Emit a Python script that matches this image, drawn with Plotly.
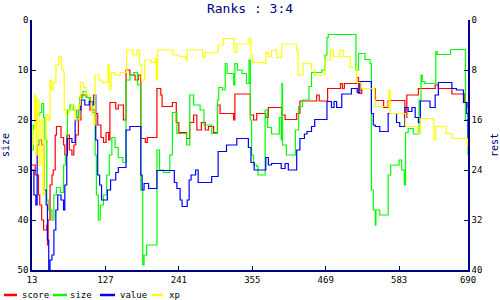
import plotly.graph_objects as go

# ---- data ----
score_x = [13,18,23,25,28,31,36,37,38,41,44,46,49,51,58,62,64,67,71,75,78,81,85,89,98,103,111,115,120,124,128,132,134,139,143,147,155,159,165,173,178,182,189,192,207,213,215,231,237,241,253,258,264,269,276,282,287,295,301,305,326,328,352,357,362,376,380,401,406,424,429,455,459,472,492,495,498,517,520,525,546,559,566,592,595,613,639,644,665,685,690]
score_v = [29,31,35,37,40,42,41,45,40,33,31,30,23,21.3,23.5,25,27,23,26,27,25,23,20,15,15.5,18,18.7,21,23.5,24.5,22.5,24,16.5,16.5,17.8,17,20,10,11,12,11,23.7,24.5,23.5,13.7,15,17.3,16.5,20.5,22.5,23.7,20.5,19,22,20.5,22,21.3,22.5,17,18.7,20,14.8,19,20,18.7,19.5,17.5,19,19.9,18.7,16.2,15,16.2,13.7,12.7,13.7,12.7,11.5,14.7,13.7,16.1,17.5,16.1,19.5,15,13.7,13,13.7,14.8,16.5,17.5]

size_x = [13,15,20,25,28,31,33,36,38,44,47,51,57,62,65,68,72,77,82,87,92,97,102,107,111,113,116,119,124,129,133,137,142,147,154,159,165,171,177,182,185,187,191,207,211,217,227,231,238,253,258,264,274,280,284,292,301,303,309,313,316,326,328,332,339,346,350,352,354,357,362,364,375,379,385,397,400,401,402,408,422,427,433,443,447,463,468,471,473,516,520,530,538,540,543,546,547,553,566,570,583,587,591,593,597,605,614,617,619,623,640,642,663,686,690]
size_v = [26,21,19,18.5,16.7,19.5,24,36,38,40,35,33.5,34.5,29,27,18,17,18,19.5,15.5,14.3,15.5,16.5,18.5,27,35,40,37,35,31,27,23.5,25.5,27.5,28.5,12,11,10.5,13,34,49,47,45,26,30,30.5,27,18.5,22.7,25,15,17,18,21,21,22.7,16,13.5,14,8.7,10.7,13,8.7,10,10.7,12.7,8,20,27,29,29.3,31,18,21.5,22.8,19.5,24,12.7,25,27,22,17.3,16,13.3,10.5,10,7,3.5,2.9,10,6.7,7.9,8.7,34,38,41,38,39,31,29,28,30,33,22.5,21.7,22.8,16,11,12.3,12.7,6.3,6.9,5.9,20,27]

value_x = [13,16,19,21,24,28,32,35,37,39,41,44,47,50,53,58,62,64,67,68,75,80,85,89,95,102,107,109,112,115,118,121,130,135,143,147,159,165,182,184,187,194,207,234,238,243,246,254,257,260,267,271,292,302,315,331,349,353,358,376,380,385,400,406,411,424,429,436,440,447,452,471,478,482,486,494,509,518,522,540,543,546,553,566,579,584,592,597,603,608,613,616,631,639,644,665,672,683,688,690]
value_v = [30,35,37,25,24,25,34,37,44,50,48,47,42,38,35,36,38,33,27,23.7,24.5,20,18,16,17,16.3,17,15,24,31,33,36,34,32,30.5,29.5,22,21.3,31,34,32.7,33.7,30.1,32.5,33.7,36,37.3,36,32,31,30,32.5,31.3,26.3,25,23.7,25.5,28.5,30,27.5,29,28.7,29.7,28.7,30,26,23.7,22.8,22.3,21.3,19.9,16.3,17.5,16.3,17.5,14.8,13.7,14.5,12.3,18.7,21,21.3,22.3,18.7,20.5,21.3,17.5,18.3,17.5,19.5,20.5,16.2,17.5,15,12.5,13.7,14,16.5,18.7,25]

xp_x = [13,15,17,19,21,24,27,30,32,35,38,41,43,46,50,55,59,62,63,66,70,75,80,86,88,93,97,106,109,111,117,122,131,133,136,142,150,160,170,176,180,183,188,198,204,206,208,227,232,242,252,254,258,278,282,290,302,310,325,327,331,349,350,353,356,373,376,380,385,393,401,424,426,431,434,443,447,452,468,476,481,491,496,507,517,525,545,546,566,567,569,592,593,610,612,616,636,637,640,654,656,665,689]
xp_v = [25,22,15,27,16,29,20,35,24,19,20,12,14,12.5,9,7.3,10,10.5,18,19,18,17,20,17,12.5,13.5,15,19,21,11,12,12.5,9,14,10.5,11,10.5,6,7,6,9,12,8,8.5,7.7,12,6,6,7,7.3,8,6,6,7.5,6.5,6.5,5,3.7,3.7,6.5,4.8,4.8,3.7,7,8.5,8.7,6.5,7.3,6,7.5,4.8,6,11,11,8.7,8.7,10,11,8,6,7.3,6,7.3,9.5,12.5,13.7,16,17.3,17.3,14,18.7,18.7,21.3,21.3,22.7,19.7,19.7,24,21.3,21.3,22.7,23.7,25.3]

names = ["score", "size", "value", "xp"]
colors = ["#ff0000", "#00ff00", "#0000ff", "#ffff00"]
series_x = [score_x, size_x, value_x, xp_x]
series_v = [score_v, size_v, value_v, xp_v]

x_ticks = [13, 127, 241, 355, 469, 583, 690]
left_ticks = [0, 10, 20, 30, 40, 50]
right_ticks = [0, 8, 16, 24, 32, 40]

NAVY = "#000080"
FONT = "DejaVu Sans Mono"

fig = go.Figure()
for nm, c, xs, vs in zip(names, colors, series_x, series_v):
    fig.add_trace(go.Scatter(x=xs, y=vs, mode="lines", name=nm,
                             line=dict(color=c, width=1.2, shape="hv"),
                             showlegend=False))
# empty trace so that the right-hand "rest" axis is drawn
fig.add_trace(go.Scatter(x=[], y=[], yaxis="y2", showlegend=False,
                         hoverinfo="skip"))

# legend built manually (small swatches like the original)
L, R, T, B = 32, 32, 20, 30
W, H = 500 - L - R, 300 - T - B
sw_px = [(4, 17), (53, 67), (100, 115), (152, 163)]
txt_px = [20, 68, 118, 167]
leg_y = 295
for (a, b), tx, nm, c in zip(sw_px, txt_px, names, colors):
    fig.add_shape(type="line", xref="paper", yref="paper",
                  x0=(a - L) / W, x1=(b - L) / W,
                  y0=(300 - B - leg_y) / H, y1=(300 - B - leg_y) / H,
                  line=dict(color=c, width=2.5))
    fig.add_annotation(xref="paper", yref="paper", x=(tx - L) / W,
                       y=(300 - B - leg_y) / H, text=nm, showarrow=False,
                       xanchor="left", yanchor="middle",
                       font=dict(family=FONT, size=9, color="#000000"))

axis_common = dict(showgrid=False, zeroline=False, showline=True,
                   linecolor=NAVY, linewidth=1.5, ticks="inside",
                   tickcolor=NAVY, ticklen=4, tickwidth=1, automargin=False,
                   tickfont=dict(family=FONT, size=9, color="#000000"))

fig.update_layout(
    width=500, height=300,
    margin=dict(l=L, r=R, t=T, b=B),
    paper_bgcolor="white", plot_bgcolor="white",
    title=dict(text="Ranks : 3:4", x=0.5, xanchor="center",
               y=0.972, yanchor="middle", yref="container",
               font=dict(family=FONT, size=13, color=NAVY)),
    xaxis=dict(range=[13, 690], tickvals=x_ticks,
               ticktext=[str(t) for t in x_ticks], **axis_common),
    yaxis=dict(range=[50, 0], tickvals=left_ticks,
               title=dict(text="size", standoff=8,
                          font=dict(family=FONT, size=10, color=NAVY)),
               **axis_common),
    yaxis2=dict(range=[40, 0], tickvals=right_ticks, overlaying="y",
                side="right", anchor="x",
                title=dict(text="rest", standoff=11,
                           font=dict(family=FONT, size=10, color=NAVY)),
                **axis_common),
)

fig.write_html("out.html")
